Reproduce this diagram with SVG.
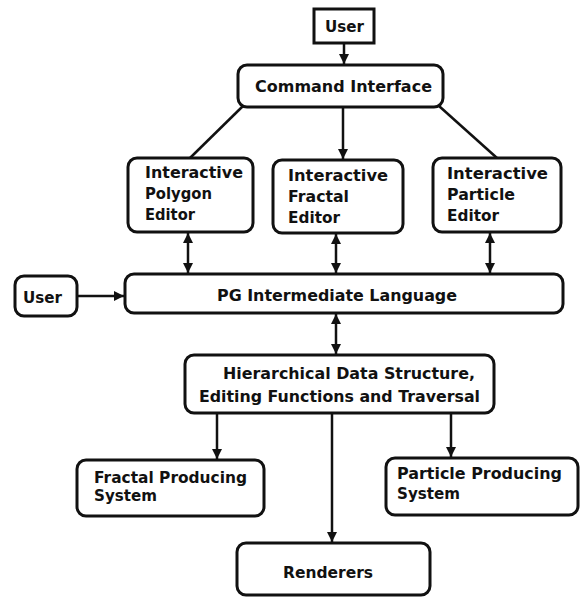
<svg xmlns="http://www.w3.org/2000/svg" width="581" height="598" viewBox="0 0 581 598">
<style>
.box{fill:#fff;stroke:#111;stroke-width:3}
.ln{stroke:#111;stroke-width:2.5;fill:none}
text{font-family:"DejaVu Sans","Liberation Sans",sans-serif;font-weight:bold;font-size:15px;fill:#111}
</style>
<defs>
<marker id="ah" viewBox="0 0 10 10" refX="10" refY="5" markerWidth="4" markerHeight="4" orient="auto-start-reverse" markerUnits="strokeWidth">
<path d="M0,0 L10,5 L0,10 z" fill="#111"/>
</marker>
</defs>
<rect width="581" height="598" fill="#fff"/>
<g id="connectors">
<line class="ln" x1="344" y1="43" x2="344" y2="64" marker-end="url(#ah)"/>
<line class="ln" x1="243" y1="106" x2="190" y2="158"/>
<line class="ln" x1="343" y1="107" x2="343" y2="159" marker-end="url(#ah)"/>
<line class="ln" x1="439" y1="106" x2="497" y2="158"/>
<line class="ln" x1="188" y1="233" x2="188" y2="273" marker-start="url(#ah)" marker-end="url(#ah)"/>
<line class="ln" x1="336" y1="234" x2="336" y2="273" marker-start="url(#ah)" marker-end="url(#ah)"/>
<line class="ln" x1="490" y1="233" x2="490" y2="273" marker-start="url(#ah)" marker-end="url(#ah)"/>
<line class="ln" x1="77" y1="296" x2="124" y2="296" marker-end="url(#ah)"/>
<line class="ln" x1="336" y1="314" x2="336" y2="354" marker-start="url(#ah)" marker-end="url(#ah)"/>
<line class="ln" x1="217" y1="414" x2="217" y2="459" marker-end="url(#ah)"/>
<line class="ln" x1="451" y1="414" x2="451" y2="457" marker-end="url(#ah)"/>
<line class="ln" x1="332" y1="414" x2="332" y2="542" marker-end="url(#ah)"/>
</g>
<g id="user-top">
<rect class="box" x="314" y="9" width="60" height="34"/>
<text x="325" y="32" textLength="39" lengthAdjust="spacingAndGlyphs">User</text>
</g>
<g id="command-interface">
<rect class="box" x="238" y="65" width="205" height="42" rx="9"/>
<text x="255" y="92" textLength="177" lengthAdjust="spacingAndGlyphs">Command Interface</text>
</g>
<g id="polygon-editor">
<rect class="box" x="128" y="158" width="125" height="74" rx="9"/>
<text x="145" y="178" textLength="98" lengthAdjust="spacingAndGlyphs">Interactive</text>
<text x="145" y="199" textLength="67" lengthAdjust="spacingAndGlyphs">Polygon</text>
<text x="145" y="220" textLength="50" lengthAdjust="spacingAndGlyphs">Editor</text>
</g>
<g id="fractal-editor">
<rect class="box" x="273" y="160" width="130" height="73" rx="9"/>
<text x="288" y="181" textLength="100" lengthAdjust="spacingAndGlyphs">Interactive</text>
<text x="288" y="202" textLength="61" lengthAdjust="spacingAndGlyphs">Fractal</text>
<text x="288" y="223" textLength="52" lengthAdjust="spacingAndGlyphs">Editor</text>
</g>
<g id="particle-editor">
<rect class="box" x="433" y="158" width="128" height="74" rx="9"/>
<text x="447" y="179" textLength="101" lengthAdjust="spacingAndGlyphs">Interactive</text>
<text x="447" y="200" textLength="68" lengthAdjust="spacingAndGlyphs">Particle</text>
<text x="447" y="221" textLength="52" lengthAdjust="spacingAndGlyphs">Editor</text>
</g>
<g id="user-left">
<rect class="box" x="15" y="276" width="62" height="40" rx="9"/>
<text x="23" y="303" textLength="39" lengthAdjust="spacingAndGlyphs">User</text>
</g>
<g id="pg-language">
<rect class="box" x="125" y="274" width="438" height="39" rx="9"/>
<text x="217" y="301" textLength="240" lengthAdjust="spacingAndGlyphs">PG Intermediate Language</text>
</g>
<g id="hierarchical">
<rect class="box" x="185" y="355" width="309" height="58" rx="9"/>
<text x="223" y="379" textLength="252" lengthAdjust="spacingAndGlyphs">Hierarchical Data Structure,</text>
<text x="199" y="402" textLength="281" lengthAdjust="spacingAndGlyphs">Editing Functions and Traversal</text>
</g>
<g id="fractal-producing">
<rect class="box" x="77" y="460" width="187" height="56" rx="9"/>
<text x="94" y="483" textLength="153" lengthAdjust="spacingAndGlyphs">Fractal Producing</text>
<text x="94" y="501" textLength="63" lengthAdjust="spacingAndGlyphs">System</text>
</g>
<g id="particle-producing">
<rect class="box" x="386" y="458" width="192" height="57" rx="9"/>
<text x="397" y="479" textLength="165" lengthAdjust="spacingAndGlyphs">Particle Producing</text>
<text x="397" y="499" textLength="63" lengthAdjust="spacingAndGlyphs">System</text>
</g>
<g id="renderers">
<rect class="box" x="237" y="543" width="193" height="52" rx="9"/>
<text x="283" y="578" textLength="90" lengthAdjust="spacingAndGlyphs">Renderers</text>
</g>
</svg>
